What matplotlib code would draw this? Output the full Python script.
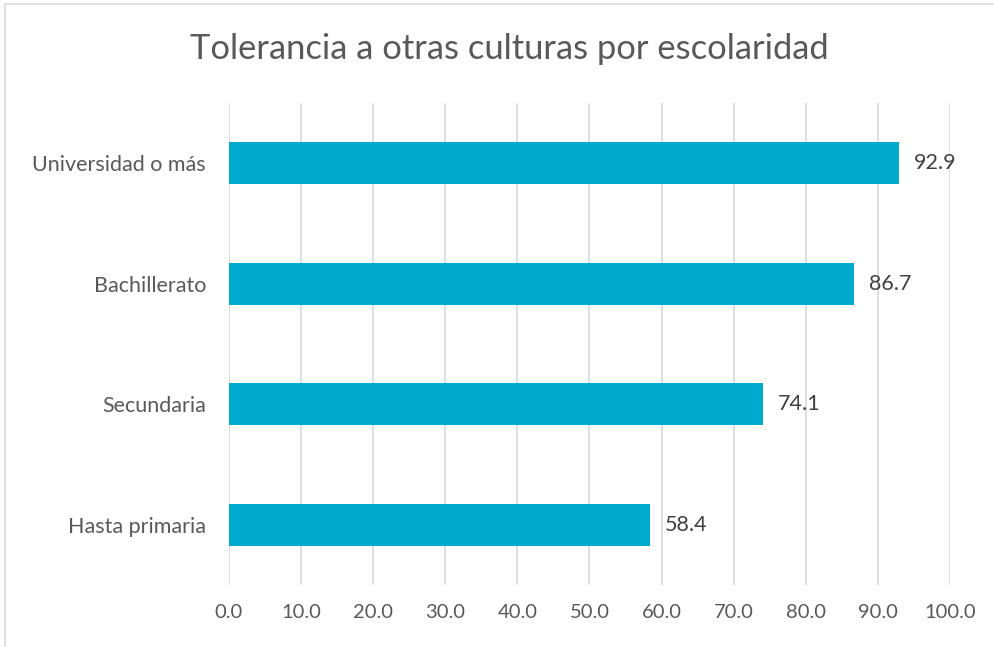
import matplotlib
matplotlib.use("Agg")
import matplotlib.pyplot as plt
from matplotlib.patches import Rectangle

categories = ["Hasta primaria", "Secundaria", "Bachillerato", "Universidad o más"]
values = [58.4, 74.1, 86.7, 92.9]
xticks = [0, 10, 20, 30, 40, 50, 60, 70, 80, 90, 100]

plt.rcParams['font.family'] = ['Lato', 'DejaVu Sans']
txt = '#595959'
bar_color = '#00AACC'

fig = plt.figure(figsize=(9.95, 6.47), dpi=100)
fig.patches.append(Rectangle((5/995, -0.1), 1.2, 1 - 4/647 + 0.1, transform=fig.transFigure,
                             fill=False, edgecolor='#D9D9D9', linewidth=1.2))
ax = fig.add_axes([229/995, 1 - 585/647, (950 - 229)/995, (585 - 103)/647])

y = list(range(len(categories)))
ax.barh(y, values, height=0.35, color=bar_color, zorder=3)
for yi, v in zip(y, values):
    ax.annotate(f"{v:.1f}", (v, yi), xytext=(15, 0), textcoords='offset pixels',
                va='center', ha='left', fontsize=15.5, color='#404040')

ax.set_xlim(0, 100)
ax.set_ylim(-0.5, 3.5)
ax.set_xticks(xticks)
ax.set_xticklabels([f"{t:.1f}" for t in xticks], fontsize=14.5, color=txt)
ax.set_yticks(y)
ax.set_yticklabels(categories, fontsize=15.5, color=txt)
ax.tick_params(axis='both', length=0)
ax.tick_params(axis='x', pad=14)
ax.tick_params(axis='y', pad=16.5)
ax.grid(axis='x', color='#D9D9D9', linewidth=1.2, zorder=0)
for s in ax.spines.values():
    s.set_visible(False)

fig.text(509/995, 1 - 49/647, "Tolerancia a otras culturas por escolaridad", ha='center', va='center',
         fontsize=24.8, color=txt)

fig.savefig("out.png", dpi=100)
